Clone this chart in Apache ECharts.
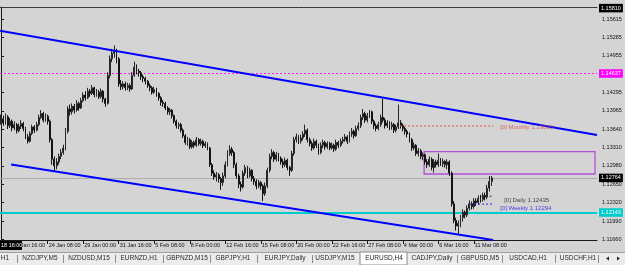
<!DOCTYPE html>
<html><head><meta charset="utf-8">
<script src="https://cdn.jsdelivr.net/npm/echarts@6/dist/echarts.min.js"></script>
<style>html,body{margin:0;padding:0;background:#d4d4d4;overflow:hidden}#c{width:625px;height:265px}</style>
</head><body><div id="c"></div><script>
// ---- data (EURUSD H4) ----
const firstOpen = 1.1376;
const closes = [
1.1382,1.1375,1.1386,1.1370,1.1378,1.1366,1.1372,1.1361,1.1369,1.1374,
1.1365,1.1350,1.1342,1.1356,1.1368,1.1362,1.1372,1.1385,1.1392,1.1380,
1.1387,1.1378,1.1345,1.1310,1.1298,1.1305,1.1315,1.1322,1.1330,1.1360,
1.1400,1.1395,1.1405,1.1398,1.1410,1.1402,1.1415,1.1425,1.1420,1.1432,
1.1428,1.1438,1.1426,1.1430,1.1422,1.1432,1.1418,1.1410,1.1460,1.1490,
1.1500,1.1505,1.1490,1.1445,1.1440,1.1445,1.1438,1.1442,1.1436,1.1460,
1.1475,1.1468,1.1465,1.1458,1.1455,1.1450,1.1442,1.1438,1.1430,1.1435,
1.1428,1.1420,1.1412,1.1410,1.1402,1.1395,1.1398,1.1388,1.1378,1.1370,
1.1372,1.1362,1.1352,1.1340,1.1345,1.1332,1.1340,1.1335,1.1345,1.1338,
1.1342,1.1334,1.1338,1.1330,1.1300,1.1285,1.1278,1.1282,1.1275,1.1268,
1.1280,1.1300,1.1320,1.1328,1.1322,1.1300,1.1280,1.1265,1.1260,1.1285,
1.1295,1.1280,1.1290,1.1275,1.1270,1.1262,1.1268,1.1262,1.1248,1.1262,
1.1290,1.1315,1.1322,1.1310,1.1318,1.1312,1.1305,1.1300,1.1308,1.1295,
1.1290,1.1320,1.1345,1.1350,1.1342,1.1348,1.1355,1.1362,1.1345,1.1338,
1.1330,1.1342,1.1335,1.1322,1.1335,1.1340,1.1332,1.1338,1.1330,1.1335,
1.1328,1.1340,1.1335,1.1342,1.1345,1.1350,1.1342,1.1355,1.1360,1.1352,
1.1365,1.1370,1.1385,1.1392,1.1380,1.1388,1.1395,1.1378,1.1370,1.1365,
1.1372,1.1385,1.1380,1.1370,1.1375,1.1368,1.1372,1.1362,1.1368,1.1375,
1.1370,1.1365,1.1360,1.1355,1.1345,1.1330,1.1335,1.1320,1.1325,1.1315,
1.1318,1.1305,1.1300,1.1310,1.1295,1.1305,1.1300,1.1308,1.1302,1.1306,
1.1300,1.1305,1.1285,1.1230,1.1200,1.1190,1.1195,1.1205,1.1215,1.1210,
1.1222,1.1230,1.1225,1.1235,1.1232,1.1240,1.1238,1.1245,1.1242,1.1258,
1.1270,1.12764];
const highs = [
1.1390,1.1388,1.1392,1.1389,1.1384,1.1381,1.1378,1.1375,1.1374,1.1380,
1.1377,1.1368,1.1355,1.1360,1.1372,1.1371,1.1377,1.1390,1.1398,1.1395,
1.1392,1.1390,1.1381,1.1348,1.1315,1.1312,1.1320,1.1328,1.1336,1.1366,
1.1405,1.1408,1.1410,1.1409,1.1416,1.1413,1.1420,1.1430,1.1432,1.1438,
1.1436,1.1443,1.1440,1.1436,1.1434,1.1437,1.1434,1.1420,1.1466,1.1496,
1.1508,1.1514,1.1508,1.1493,1.1452,1.1450,1.1449,1.1447,1.1446,1.1466,
1.1485,1.1480,1.1472,1.1468,1.1462,1.1458,1.1452,1.1446,1.1441,1.1440,
1.1438,1.1430,1.1423,1.1416,1.1413,1.1405,1.1402,1.1400,1.1390,1.1381,
1.1376,1.1375,1.1365,1.1355,1.1350,1.1348,1.1344,1.1343,1.1350,1.1348,
1.1347,1.1345,1.1342,1.1340,1.1332,1.1303,1.1290,1.1287,1.1285,1.1278,
1.1286,1.1306,1.1326,1.1335,1.1332,1.1325,1.1304,1.1284,1.1270,1.1290,
1.1300,1.1298,1.1295,1.1292,1.1280,1.1274,1.1273,1.1271,1.1265,1.1268,
1.1295,1.1320,1.1328,1.1325,1.1323,1.1321,1.1315,1.1310,1.1313,1.1311,
1.1298,1.1325,1.1350,1.1356,1.1353,1.1354,1.1360,1.1372,1.1365,1.1349,
1.1342,1.1347,1.1345,1.1338,1.1340,1.1345,1.1343,1.1342,1.1341,1.1340,
1.1338,1.1345,1.1343,1.1347,1.1350,1.1355,1.1353,1.1360,1.1366,1.1363,
1.1370,1.1376,1.1390,1.1400,1.1395,1.1393,1.1398,1.1397,1.1381,1.1374,
1.1377,1.1390,1.1418,1.1384,1.1380,1.1378,1.1377,1.1375,1.1372,1.1408,
1.1380,1.1374,1.1368,1.1363,1.1358,1.1348,1.1340,1.1337,1.1330,1.1328,
1.1322,1.1320,1.1310,1.1315,1.1313,1.1310,1.1309,1.1320,1.1312,1.1311,
1.1308,1.1310,1.1308,1.1288,1.1235,1.1205,1.1200,1.1210,1.1220,1.1218,
1.1227,1.1236,1.1234,1.1240,1.1240,1.1245,1.1246,1.1250,1.1250,1.1264,
1.1280,1.1280];
const lows = [
1.1372,1.1370,1.1372,1.1364,1.1366,1.1360,1.1362,1.1356,1.1358,1.1364,
1.1360,1.1346,1.1338,1.1340,1.1353,1.1357,1.1360,1.1369,1.1382,1.1376,
1.1377,1.1372,1.1340,1.1300,1.1289,1.1292,1.1300,1.1310,1.1318,1.1326,
1.1356,1.1388,1.1390,1.1392,1.1395,1.1397,1.1400,1.1412,1.1415,1.1418,
1.1422,1.1425,1.1421,1.1422,1.1418,1.1419,1.1412,1.1404,1.1408,1.1455,
1.1484,1.1492,1.1482,1.1440,1.1434,1.1435,1.1433,1.1434,1.1431,1.1434,
1.1458,1.1462,1.1458,1.1452,1.1448,1.1444,1.1438,1.1432,1.1426,1.1427,
1.1422,1.1415,1.1406,1.1404,1.1398,1.1390,1.1389,1.1383,1.1374,1.1365,
1.1364,1.1358,1.1348,1.1336,1.1334,1.1328,1.1329,1.1330,1.1332,1.1334,
1.1334,1.1330,1.1330,1.1326,1.1296,1.1280,1.1273,1.1270,1.1268,1.1255,
1.1262,1.1276,1.1297,1.1316,1.1316,1.1294,1.1275,1.1258,1.1252,1.1257,
1.1280,1.1276,1.1277,1.1270,1.1264,1.1256,1.1258,1.1255,1.1235,1.1244,
1.1258,1.1286,1.1310,1.1305,1.1306,1.1306,1.1300,1.1294,1.1296,1.1290,
1.1280,1.1287,1.1316,1.1340,1.1337,1.1338,1.1344,1.1350,1.1340,1.1333,
1.1325,1.1327,1.1330,1.1318,1.1319,1.1330,1.1327,1.1328,1.1326,1.1327,
1.1323,1.1325,1.1330,1.1332,1.1338,1.1341,1.1337,1.1340,1.1350,1.1347,
1.1350,1.1361,1.1366,1.1380,1.1375,1.1376,1.1384,1.1373,1.1364,1.1360,
1.1362,1.1368,1.1376,1.1365,1.1366,1.1362,1.1363,1.1357,1.1358,1.1364,
1.1365,1.1360,1.1354,1.1349,1.1340,1.1325,1.1326,1.1316,1.1315,1.1310,
1.1308,1.1300,1.1294,1.1296,1.1290,1.1286,1.1295,1.1296,1.1298,1.1296,
1.1295,1.1292,1.1280,1.1225,1.1195,1.1182,1.1176,1.1188,1.1198,1.1204,
1.1206,1.1218,1.1220,1.1221,1.1226,1.1228,1.1232,1.1234,1.1236,1.1238,
1.1252,1.1262];

const xTickLabels = ['21 Jan 16:00','24 Jan 08:00','29 Jan 00:00','31 Jan 16:00','5 Feb 08:00','8 Feb 00:00',
  '12 Feb 16:00','15 Feb 08:00','20 Feb 00:00','22 Feb 16:00','27 Feb 08:00','4 Mar 00:00','6 Mar 16:00','11 Mar 08:00'];
const yTickValues = [1.11660,1.11990,1.12320,1.12650,1.12980,1.13310,1.13640,1.13965,1.14295,1.14955,1.15285,1.15615];

// price levels / objects
const topPrice = 1.15810, magentaLevel = 1.14637, bidLevel = 1.12764, cyanLevel = 1.12143;
const monthlyLevel = 1.13695, dailyLevel = 1.12435, weeklyLevel = 1.12294;
const upperTrend = [[-0.5, 1.15405], [268.5, 1.13534]];
const lowerTrend = [[4.5, 1.13005], [221.7, 1.11650]];
const boxZone = [[190.6, 1.13234], [267.6, 1.12834]];
const monthlySpan = [179.8, 221.7], weeklySpan = [211.3, 221.7], dailySpan = [216.5, 221.7];

const tabs = ['H1','NZDJPY,M5','NZDUSD,M15','EURNZD,H1','GBPNZD,M15','GBPJPY,H1','EURJPY,Daily','USDJPY,M15','EURUSD,H4','CADJPY,Daily','GBPUSD,M5','USDCAD,H1','USDCHF,H1'];
const tabCenters = [5,40,89,139,187,233,285,335,384,432,480,528,578];
const tabSeps = [17,63,115,163,210,257,312,457,502,555,598];

// ---- categories (H4 bars, weekdays only) ----
const totalSlots = 269;
const months = ['Jan','Feb','Mar','Apr','May','Jun','Jul','Aug','Sep','Oct','Nov','Dec'];
const categories = [];
{
  let t = Date.UTC(2019, 0, 18, 20);
  while (categories.length < totalSlots) {
    const d = new Date(t);
    const wd = d.getUTCDay();
    if (wd !== 0 && wd !== 6) {
      const h = d.getUTCHours();
      categories.push(d.getUTCDate() + ' ' + months[d.getUTCMonth()] + ' ' + (h < 10 ? '0' : '') + h + ':00');
    }
    t += 4 * 3600 * 1000;
  }
}
const tickSet = new Set(xTickLabels);
const ohlc = closes.map((c, i) => [i === 0 ? firstOpen : closes[i - 1], c, lows[i], highs[i]]);

const FONT = 'Liberation Sans';
const chart = echarts.init(document.getElementById('c'), null, {renderer: 'canvas'});

const graphic = [
  {type:'rect', shape:{x:0,y:252,width:625,height:13}, style:{fill:'#ececec'}, z:100},
  {type:'line', shape:{x1:0,y1:252.5,x2:625,y2:252.5}, style:{stroke:'#a0a0a0', lineWidth:1}, z:101},
  {type:'rect', shape:{x:360,y:252,width:47,height:13}, style:{fill:'#ffffff', stroke:'#8a8a8a', lineWidth:1}, z:101},
  {type:'rect', shape:{x:0,y:241,width:22,height:9}, style:{fill:'#000000'}, z:100},
  {type:'text', x:1, y:245.5, style:{text:'18 16:00', fill:'#ffffff', font:'5.5px "Liberation Sans"', textVerticalAlign:'middle'}, z:101},
  {type:'polygon', shape:{points:[[606,258.5],[609,256.5],[609,260.5]]}, style:{fill:'#222'}, z:102},
  {type:'polygon', shape:{points:[[620,258.5],[617,256.5],[617,260.5]]}, style:{fill:'#222'}, z:102}
];
tabs.forEach((t, i) => graphic.push({type:'text', x:tabCenters[i], y:258.5, style:{text:t, fill:'#2a2a2a', font:'6.5px "Liberation Sans"', textAlign:'center', textVerticalAlign:'middle'}, z:103}));
tabSeps.forEach(x => graphic.push({type:'line', shape:{x1:x+0.5,y1:255,x2:x+0.5,y2:263}, style:{stroke:'#8a8a8a', lineWidth:1}, z:103}));

const boxLabel = (bg, fg) => ({show:true, position:'end', distance:2, fontSize:5.5, fontFamily:FONT, color:fg, backgroundColor:bg, padding:[1.5,2,1,2], formatter: p => Number(p.value).toFixed(5)});

const option = {
  animation:false,
  backgroundColor:'#d4d4d4',
  grid:{left:0, right:28, top:7, bottom:25},
  xAxis:[
    {type:'category', data:categories, boundaryGap:true,
     axisLine:{lineStyle:{color:'#1a1a1a', width:1}},
     axisTick:{show:true, interval:(i,v)=>tickSet.has(v), alignWithLabel:true, length:4, lineStyle:{color:'#1a1a1a'}},
     axisLabel:{interval:(i,v)=>tickSet.has(v), align:'left', margin:2, fontSize:5.5, fontFamily:FONT, color:'#111', padding:[0,0,0,1]},
     splitLine:{show:false}},
    {type:'value', position:'top', min:-0.5, max:totalSlots-0.5,
     axisLine:{show:true, onZero:false, lineStyle:{color:'#3a3a3a'}}, axisTick:{show:false}, axisLabel:{show:false}, splitLine:{show:false}}
  ],
  yAxis:{type:'value', position:'right', min:1.1165, max:1.1583,
    axisLine:{show:true, lineStyle:{color:'#1a1a1a'}},
    axisTick:{show:true, customValues:yTickValues, length:3, lineStyle:{color:'#1a1a1a'}},
    axisLabel:{customValues:yTickValues, formatter:v=>Number(v).toFixed(5), margin:5, fontSize:5.5, fontFamily:FONT, color:'#111'},
    splitLine:{show:false}},
  graphic: graphic,
  series:[
    {type:'line', xAxisIndex:1, yAxisIndex:0, data:[[-0.5, magentaLevel],[totalSlots-0.5, magentaLevel]], symbol:'none', lineStyle:{color:'#ff20ff', width:1, type:[2,2]}, z:2, silent:true},
    {type:'candlestick', xAxisIndex:0, yAxisIndex:0, data:ohlc, barWidth:1.4, z:4,
     itemStyle:{color:'#9a9a9a', color0:'#141414', borderColor:'#262626', borderColor0:'#141414', borderWidth:1},
     markLine:{silent:true, symbol:['none','none'], animation:false, precision:5, z:3,
       data:[
         {yAxis:magentaLevel, lineStyle:{color:'rgba(0,0,0,0)', type:'solid', width:1}, label:boxLabel('#ff00ff','#ffffff')},
         {yAxis:bidLevel, lineStyle:{color:'#ababab', type:'solid', width:1}, label:boxLabel('#000000','#ffffff')},
         {yAxis:cyanLevel, lineStyle:{color:'#00cccc', type:'solid', width:2}, label:boxLabel('#00cccc','#ffffff')},
         {yAxis:topPrice, lineStyle:{color:'rgba(0,0,0,0)', type:'solid', width:1}, label:boxLabel('#000000','#ffffff')}
       ]}},
    {type:'line', xAxisIndex:1, yAxisIndex:0, data:upperTrend, symbol:'none', lineStyle:{color:'#0000ff', width:2}, z:5, silent:true},
    {type:'line', xAxisIndex:1, yAxisIndex:0, data:lowerTrend, symbol:'none', lineStyle:{color:'#0000ff', width:2}, z:5, silent:true},
    {type:'line', xAxisIndex:1, yAxisIndex:0, data:[[monthlySpan[0], monthlyLevel],[monthlySpan[1], monthlyLevel]], symbol:'none', lineStyle:{color:'#e84a4a', width:1, type:[2,2]}, z:5, silent:true,
     markArea:{silent:true, itemStyle:{color:'rgba(0,0,0,0)', borderColor:'#b050d8', borderWidth:1.3},
       data:[[{coord:boxZone[0]},{coord:boxZone[1]}]]}},
    {type:'line', xAxisIndex:1, yAxisIndex:0, data:[[weeklySpan[0], weeklyLevel],[weeklySpan[1], weeklyLevel]], symbol:'none', lineStyle:{color:'#2020e8', width:1, type:[2,2]}, z:5, silent:true},
    {type:'line', xAxisIndex:1, yAxisIndex:0, data:[[dailySpan[0], dailyLevel],[dailySpan[1], dailyLevel]], symbol:'none', lineStyle:{color:'#303030', width:1, type:[2,2]}, z:5, silent:true},
    {type:'scatter', xAxisIndex:1, yAxisIndex:0, symbolSize:0, silent:true, z:6,
     data:[
       {name:'[0] Monthly 1.13695', value:[monthlySpan[1], monthlyLevel], label:{color:'#e04545', distance:7, offset:[0,1]}},
       {name:'[0] Daily 1.12435', value:[dailySpan[1], dailyLevel], label:{color:'#1a1a1a', distance:11, offset:[0,4]}},
       {name:'[0] Weekly 1.12294', value:[weeklySpan[1], weeklyLevel], label:{color:'#2020e0', distance:7, offset:[0,4]}}
     ],
     label:{show:true, position:'right', formatter:'{b}', fontSize:6, fontFamily:FONT}}
  ]
};
chart.setOption(option);
</script></body></html>
